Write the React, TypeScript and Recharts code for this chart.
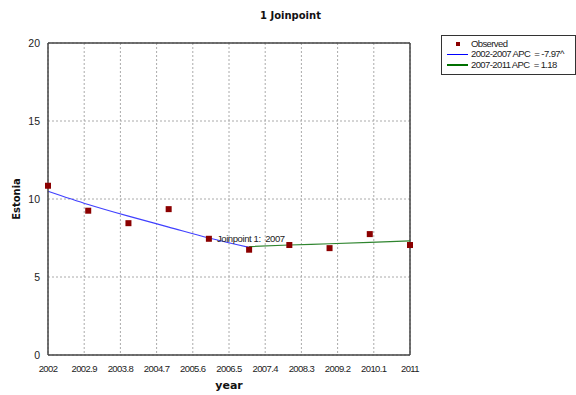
import React from "react";
import {
  ComposedChart, Line, Scatter, XAxis, YAxis, CartesianGrid,
  ReferenceLine, ReferenceDot,
} from "recharts";

const years = [2002, 2003, 2004, 2005, 2006, 2007, 2008, 2009, 2010, 2011];
const observed = [10.85, 9.25, 8.45, 9.35, 7.45, 6.75, 7.05, 6.85, 7.75, 7.05];

const seg1Years = [2002, 2003, 2004, 2005, 2006, 2007];
const seg1Fit = [10.5, 9.65, 8.9, 8.2, 7.5, 6.9];
const seg2Years = [2007, 2008, 2009, 2010, 2011];
const seg2Fit = [6.95, 7.05, 7.13, 7.22, 7.31];

const xTicks = [2002, 2002.9, 2003.8, 2004.7, 2005.6, 2006.5, 2007.4, 2008.3, 2009.2, 2010.1, 2011];
const yTicks = [0, 5, 10, 15, 20];

const legendItems = [
  { label: "Observed", kind: "dot", color: "#8b0000" },
  { label: "2002-2007 APC  = -7.97^", kind: "line", color: "#0000ff" },
  { label: "2007-2011 APC  = 1.18", kind: "line", color: "#007000" },
];

const obsData = years.map((year, i) => ({ year, value: observed[i] }));
const seg1Data = seg1Years.map((year, i) => ({ year, fit: seg1Fit[i] }));
const seg2Data = seg2Years.map((year, i) => ({ year, fit: seg2Fit[i] }));

const sans = "Liberation Sans, Arial, sans-serif";
const boldFont = "DejaVu Sans, Verdana, sans-serif";

function SquareDot(props: any) {
  const { cx, cy } = props;
  if (cx == null || cy == null) return null;
  return <rect x={cx - 3} y={cy - 3} width={6} height={6} fill="#8b0000" />;
}

function LegendBox() {
  return (
    <div
      style={{
        position: "absolute", top: 35, left: 441, width: 128,
        border: "1px solid #333",
        padding: "3px 0 4px 5px",
        fontFamily: sans,
        fontSize: 9.5,
        letterSpacing: -0.6,
        color: "#222",
        lineHeight: "10.4px",
        background: "#fff",
        whiteSpace: "pre",
      }}
    >
      {legendItems.map((it) => (
        <div key={it.label} style={{ display: "flex", alignItems: "center" }}>
          <span style={{ width: 21, display: "inline-flex", justifyContent: "center", marginRight: 3 }}>
            {it.kind === "dot" ? (
              <span style={{ width: 4, height: 4, background: it.color, display: "inline-block" }} />
            ) : (
              <span style={{ width: 21, height: 1.5, background: it.color, display: "inline-block" }} />
            )}
          </span>
          <span>{it.label}</span>
        </div>
      ))}
    </div>
  );
}

export default function App() {
  return (
    <div style={{ position: "absolute", left: 0, top: 0, width: 576, height: 395, background: "#fff" }}>
      <div
        style={{
          position: "absolute", top: 10, left: 260,
          fontFamily: boldFont, fontWeight: "bold", fontSize: 10, color: "#111",
        }}
      >
        1 Joinpoint
      </div>
      <ComposedChart
        width={576}
        height={395}
        margin={{ top: 43, right: 166, bottom: 0, left: 0 }}
      >
        <CartesianGrid stroke="#aaa" strokeDasharray="2 2" />
        <XAxis
          type="number"
          dataKey="year"
          domain={[2002, 2011]}
          ticks={xTicks}
          interval={0}
          allowDecimals
          tick={{ fontSize: 9.5, fill: "#222", fontFamily: sans, letterSpacing: -0.6 }}
          tickLine={false}
          axisLine={{ stroke: "#444", strokeWidth: 1.5 }}
          height={40}
          tickMargin={4}
          label={{
            value: "year", position: "insideBottom", offset: 6,
            style: { fontSize: 11, fontWeight: "bold", fill: "#111", fontFamily: boldFont },
          }}
        />
        <YAxis
          type="number"
          domain={[0, 20]}
          ticks={yTicks}
          tick={{ fontSize: 10.5, fill: "#222", fontFamily: sans }}
          tickLine={false}
          axisLine={{ stroke: "#444", strokeWidth: 1.5 }}
          width={48}
          tickMargin={2}
          label={{
            value: "Estonia", angle: -90, position: "insideLeft", offset: 16,
            style: { fontSize: 10, fontWeight: "bold", fill: "#111", fontFamily: boldFont, textAnchor: "middle" },
          }}
        />
        <ReferenceLine y={20} stroke="#444" strokeWidth={1.5} />
        <ReferenceLine x={2011} stroke="#444" strokeWidth={1.5} />
        <Line
          data={seg1Data}
          dataKey="fit"
          type="monotone"
          stroke="#4040ff"
          strokeWidth={1.2}
          dot={false}
          isAnimationActive={false}
          legendType="none"
        />
        <Line
          data={seg2Data}
          dataKey="fit"
          type="monotone"
          stroke="#2f852f"
          strokeWidth={1.2}
          dot={false}
          isAnimationActive={false}
          legendType="none"
        />
        <Scatter
          data={obsData}
          dataKey="value"
          shape={<SquareDot />}
          isAnimationActive={false}
          legendType="none"
        />
        <ReferenceDot
          x={2006.1}
          y={7.45}
          r={0}
          stroke="none"
          label={{
            value: "Joinpoint 1:\u00a0\u00a02007", position: "right", offset: 4,
            style: { fontSize: 9.5, fill: "#222", fontFamily: sans, letterSpacing: -0.4 },
          }}
        />
      </ComposedChart>
      <LegendBox />
    </div>
  );
}
